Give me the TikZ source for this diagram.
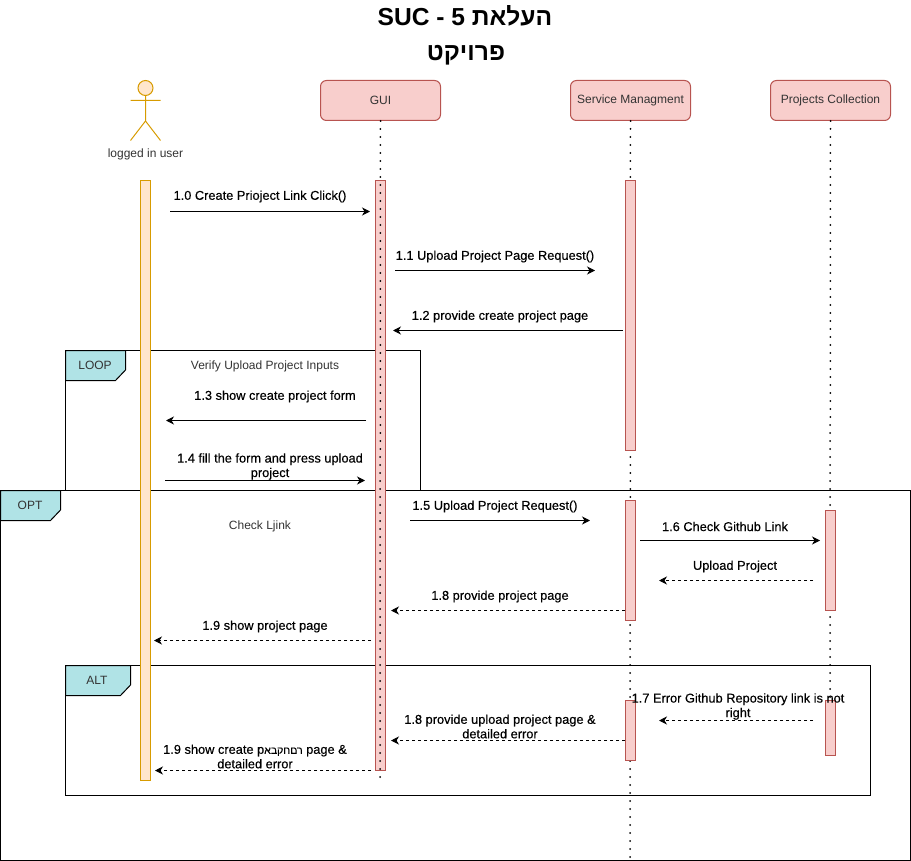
\documentclass[tikz,border=0pt]{standalone}
\usepackage{fontspec}
\setmainfont{Liberation Sans}
\newfontfamily\hebfont[Script=Hebrew]{Liberation Sans}
\newfontfamily\msgfont[FakeBold=0.35]{Liberation Sans}
\newfontfamily\msghebfont[Script=Hebrew,FakeBold=0.35]{Liberation Sans}
\TeXXeTstate=1
\usetikzlibrary{positioning}
\usetikzlibrary{arrows.meta}
\definecolor{lifefill}{HTML}{F8CECC}
\definecolor{lifedraw}{HTML}{B85450}
\definecolor{userfill}{HTML}{FFE6CC}
\definecolor{userdraw}{HTML}{D79B00}
\definecolor{tagfill}{HTML}{B0E3E6}
\definecolor{textgray}{HTML}{333333}
\begin{document}
\begin{tikzpicture}[
            x = 1pt, y = -1pt,
            > = {Stealth[length=8pt,width=8pt,inset=2.5pt]},
            font = \fontsize{12pt}{14pt}\selectfont,
            text = textgray,
            every node/.style = {inner sep = 0pt, align = center},
            lifehead/.style = {draw = lifedraw, fill = lifefill, line width = 1pt, rounded corners = 6pt,
                minimum width = 120pt, minimum height = 40pt},
            bar/.style = {draw = lifedraw, fill = lifefill, line width = 1pt, minimum width = 10pt},
            userbar/.style = {draw = userdraw, fill = userfill, line width = 1pt, minimum width = 10pt},
            lifeline/.style = {line width = 2pt, line cap = round, dash pattern = on 0pt off 8pt},
            frame/.style = {draw = black, line width = 1pt},
            tag/.style = {draw = black, fill = tagfill, line width = 1pt},
            msg/.style = {->, black, line width = 1pt},
            reply/.style = {->, black, line width = 1pt, dash pattern = on 3pt off 3pt},
            lbl/.style = {font = \msgfont\fontsize{12.8pt}{14.5pt}\selectfont, text = black, yshift = -1pt},
            titletext/.style = {font = \bfseries\fontsize{24.6pt}{26pt}\selectfont, text = black}
        ]

        \useasboundingbox (0,0) rectangle (911,861);

        % title
        \node[titletext] (title1) at (465,16) {SUC - 5 {\hebfont\beginR העלאת\endR}};
        \node[titletext] (title2) at (466,55) {\hebfont\beginR פרויקט\endR};

        % lifelines
        \coordinate (guiEnd) at (380,780);
        \coordinate (svcEnd) at (630,861);
        \coordinate (prjEnd) at (830,700);
        \node[lifehead] (gui) at (380.5,100.5) {GUI};
        \node[lifehead] (svc) at (630.5,100.5) {Service Managment};
        \node[lifehead] (prj) at (830.5,100.5) {Projects Collection};

        % user
        \node[circle, draw = userdraw, fill = userfill, line width = 1pt, minimum size = 15pt] (head) at (145.5,88) {};
        \coordinate (hip) at (145.5,121);
        \coordinate (armL) at (130.5,100.5);
        \coordinate (armR) at (160.5,100.5);
        \coordinate (footL) at (130.5,140.5);
        \coordinate (footR) at (160.5,140.5);
        \draw[userdraw, line width = 1pt] (head) -- (hip) (armL) -- (armR) (footL) -- (hip) -- (footR);
        \node (user) at (145.5,154.5) {logged in user};

        % frames
        \draw[frame] (65.5,490) -- (65.5,350.5) -- (420.5,350.5) -- (420.5,490);
        \draw[frame] (0.5,490.5) rectangle (910.5,860.5);
        \draw[frame] (65.5,665.5) rectangle (870.5,795.5);
        \draw[tag] (65.5,350.5) -- (125.5,350.5) -- (125.5,370) -- (115.5,380.5) -- (65.5,380.5) -- cycle;
        \draw[tag] (0.5,490.5) -- (60.5,490.5) -- (60.5,510) -- (50.5,520.5) -- (0.5,520.5) -- cycle;
        \draw[tag] (65.5,665.5) -- (130.5,665.5) -- (130.5,685) -- (120.5,695.5) -- (65.5,695.5) -- cycle;
        \node (loopTag) at (95,365.5) {LOOP};
        \node (optTag) at (30,505.5) {OPT};
        \node (altTag) at (97,680.5) {ALT};

        % dotted lines, the one of GUI comes after its activation
        \draw[lifeline] (svc.south) -- (svcEnd);
        \draw[lifeline] (prj.south) -- (prjEnd);

        % activations
        \node[userbar, minimum height = 600pt] (userBar) at (145,480.5) {};
        \node[bar, minimum height = 590pt] (guiBar) at (380.5,475.5) {};
        \node[bar, minimum height = 270pt] (svcA) at (630.5,315.5) {};
        \node[bar, minimum height = 120pt] (svcB) at (630.5,560.5) {};
        \node[bar, minimum height = 60pt] (svcC) at (630.5,730.5) {};
        \node[bar, minimum height = 100pt] (prjA) at (830.5,560.5) {};
        \node[bar, minimum height = 55pt] (prjB) at (830.5,727.5) {};
        \draw[lifeline] (gui.south) -- (guiEnd);

        % messages
        \coordinate (m0a) at (170,211.5);   \coordinate (m0b) at (370,211.5);
        \coordinate (m1a) at (395,270.5);   \coordinate (m1b) at (595,270.5);
        \coordinate (m2a) at (623,330.5);   \coordinate (m2b) at (393,330.5);
        \coordinate (m3a) at (366,420.5); \coordinate (m3b) at (166,420.5);
        \coordinate (m4a) at (165,480.5); \coordinate (m4b) at (365,480.5);
        \coordinate (m5a) at (410,520.5);   \coordinate (m5b) at (590,520.5);
        \coordinate (m6a) at (640,540.5); \coordinate (m6b) at (820,540.5);
        \coordinate (m7a) at (813,580.5); \coordinate (m7b) at (659,580.5);
        \coordinate (m8a) at (625,610.5); \coordinate (m8b) at (391,610.5);
        \coordinate (m9a) at (371,640.5); \coordinate (m9b) at (154,640.5);
        \coordinate (e7a) at (813,720.5); \coordinate (e7b) at (659,720.5);
        \coordinate (e8a) at (625,740.5); \coordinate (e8b) at (391,740.5);
        \coordinate (e9a) at (371,770.5); \coordinate (e9b) at (155,770.5);
        \draw[msg] (m0a) -- (m0b);
        \draw[msg] (m1a) -- (m1b);
        \draw[msg] (m2a) -- (m2b);
        \draw[msg] (m3a) -- (m3b);
        \draw[msg] (m4a) -- (m4b);
        \draw[msg] (m5a) -- (m5b);
        \draw[msg] (m6a) -- (m6b);
        \draw[reply] (m7a) -- (m7b);
        \draw[reply] (m8a) -- (m8b);
        \draw[reply] (m9a) -- (m9b);
        \draw[reply] (e7a) -- (e7b);
        \draw[reply] (e8a) -- (e8b);
        \draw[reply] (e9a) -- (e9b);

        % labels
        \node (frameA) at (265,366.5) {Verify Upload Project Inputs};
        \node (frameB) at (260,526.5) {Check Ljink};
        \node[lbl] (t0) at (260,195.5) {1.0 Create Prioject Link Click()};
        \node[lbl] (t1) at (495,255.5) {1.1 Upload Project Page Request()};
        \node[lbl] (t2) at (500,315.5) {1.2 provide create project page};
        \node[lbl] (t3) at (275,395.5) {1.3 show create project form};
        \node[lbl] (t4) at (270,465.5) {1.4 fill the form and press upload\\project};
        \node[lbl] (t5) at (495,505.5) {1.5 Upload Project Request()};
        \node[lbl] (t6) at (725,525.5) {1.6 Check Github Link};
        \node[lbl] (t7) at (735,565.5) {Upload Project};
        \node[lbl] (t8) at (500,595.5) {1.8 provide project page};
        \node[lbl] (t9) at (265,625.5) {1.9 show project page};
        \node[lbl] (u7) at (738,705.5) {1.7 Error Github Repository link is not\\right};
        \node[lbl] (u8) at (500,725.5) {1.8 provide upload project page \&\\detailed error};
        \node[lbl] (u9) at (255,755.5) {1.9 show create p{\msghebfont\fontsize{10.5pt}{14.5pt}\selectfont\beginR רםחקבא\endR} page \&\\detailed error};
\end{tikzpicture}
\end{document}
